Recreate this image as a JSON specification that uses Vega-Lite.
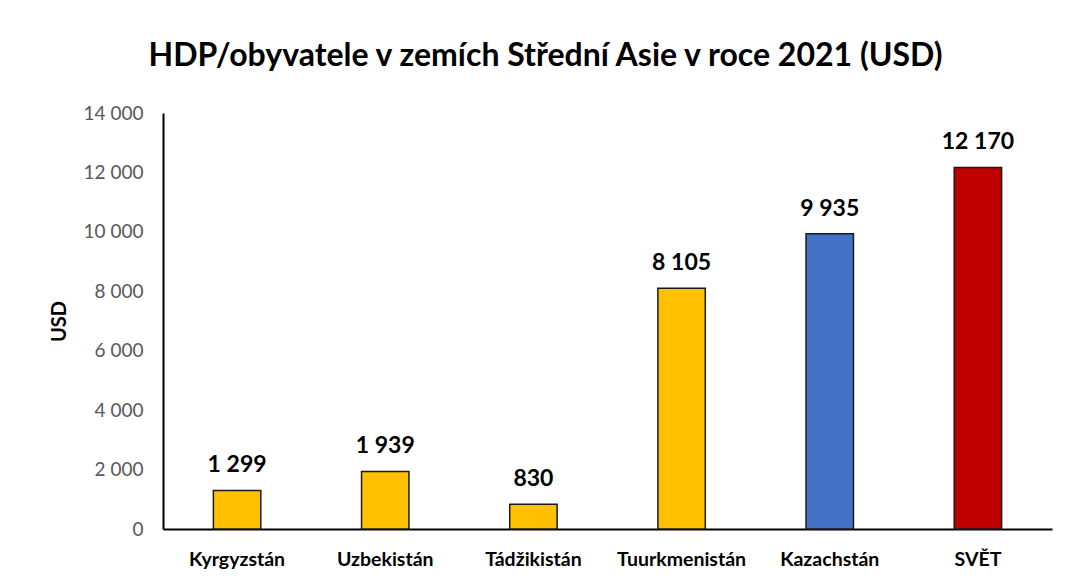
{
  "$schema": "https://vega.github.io/schema/vega-lite/v6.json",
  "width": 889,
  "height": 416,
  "autosize": "none",
  "padding": {"left": 163, "top": 113, "right": 15, "bottom": 58},
  "background": "white",
  "config": {
    "locale": {"number": {"decimal": ",", "thousands": " ", "grouping": [3], "currency": ["", " USD"]}},
    "view": {"stroke": null},
    "font": "Lato"
  },
  "title": {
    "text": "HDP/obyvatele v zemích Střední Asie v roce 2021 (USD)",
    "font": "Lato",
    "fontSize": 32,
    "fontWeight": "bold",
    "color": "#000000",
    "anchor": "middle",
    "dx": -62,
    "offset": 31
  },
  "data": {
    "values": [
      {"zeme": "Kyrgyzstán", "hdp": 1299, "skupina": "ostatní"},
      {"zeme": "Uzbekistán", "hdp": 1939, "skupina": "ostatní"},
      {"zeme": "Tádžikistán", "hdp": 830, "skupina": "ostatní"},
      {"zeme": "Tuurkmenistán", "hdp": 8105, "skupina": "ostatní"},
      {"zeme": "Kazachstán", "hdp": 9935, "skupina": "Kazachstán"},
      {"zeme": "SVĚT", "hdp": 12170, "skupina": "svět"}
    ]
  },
  "encoding": {
    "x": {
      "field": "zeme",
      "type": "nominal",
      "sort": null,
      "scale": {"paddingInner": 0.68, "paddingOuter": 0.34},
      "axis": {
        "title": null,
        "labelAngle": 0,
        "labelFont": "Lato",
        "labelFontSize": 19.5,
        "labelFontWeight": "bold",
        "labelColor": "#000000",
        "labelPadding": 21,
        "ticks": false,
        "domainColor": "#000000",
        "domainWidth": 2
      }
    },
    "y": {
      "field": "hdp",
      "type": "quantitative",
      "scale": {"domain": [0, 14000]},
      "axis": {
        "title": "USD",
        "titleFont": "Lato",
        "titleFontSize": 20,
        "titleFontWeight": "bold",
        "titleColor": "#000000",
        "titlePadding": 14,
        "values": [0, 2000, 4000, 6000, 8000, 10000, 12000, 14000],
        "format": ",d",
        "labelFont": "Lato",
        "labelFontSize": 19,
        "labelColor": "#595959",
        "labelPadding": 20,
        "ticks": false,
        "grid": false,
        "domainColor": "#000000",
        "domainWidth": 2
      }
    }
  },
  "layer": [
    {
      "mark": {"type": "bar", "stroke": "#1a1a1a", "strokeWidth": 1.5},
      "encoding": {
        "color": {
          "field": "skupina",
          "type": "nominal",
          "scale": {"domain": ["ostatní", "Kazachstán", "svět"], "range": ["#FFC000", "#4472C4", "#C00000"]},
          "legend": null
        }
      }
    },
    {
      "mark": {"type": "text", "baseline": "bottom", "dy": -13, "font": "Lato", "fontSize": 23, "fontWeight": "bold", "color": "#000000"},
      "encoding": {
        "text": {"field": "hdp", "type": "quantitative", "format": ",d"}
      }
    }
  ]
}
